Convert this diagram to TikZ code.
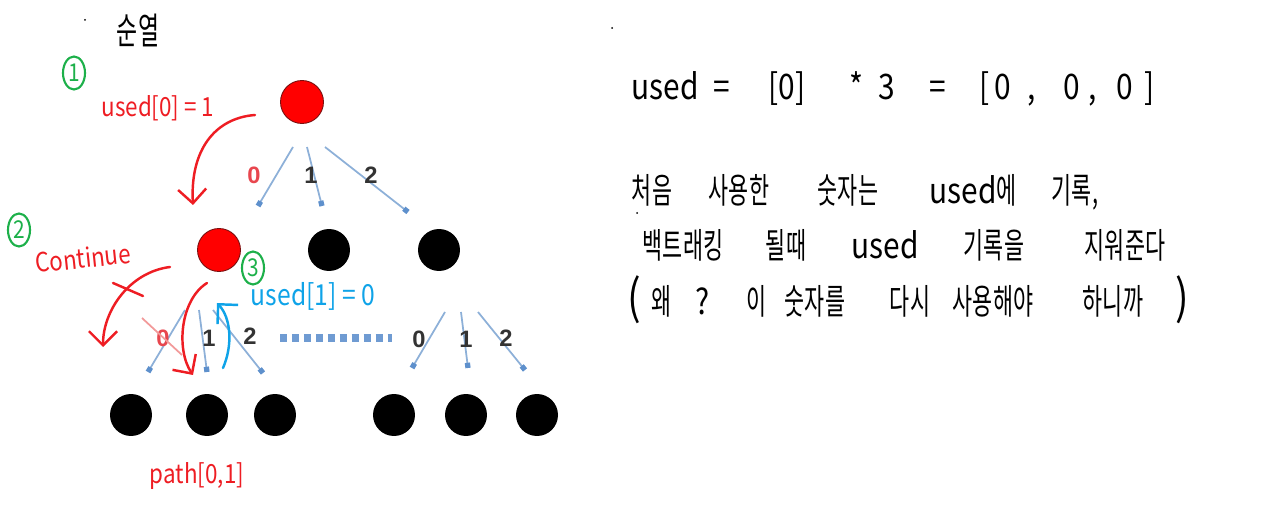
\documentclass[tikz,border=0pt]{standalone}
\usepackage{fontspec}
\setmainfont{Noto Sans}
\newfontfamily\labfont{Liberation Sans}
\newfontfamily\handlat[FakeStretch=0.85]{Noto Sans CJK KR}
\newfontfamily\handkr[FakeStretch=0.62]{Noto Sans CJK KR}
\newcommand\K[1]{{\handkr #1}}
\usetikzlibrary{arrows.meta,shapes.geometric}
\definecolor{nodered}{HTML}{FF0000}
\definecolor{noderim}{HTML}{7A1010}
\definecolor{penred}{HTML}{EE1D23}
\definecolor{penblue}{HTML}{0FA3E8}
\definecolor{pengreen}{HTML}{1DB04A}
\definecolor{edgeblue}{HTML}{8DB0D8}
\definecolor{tipblue}{HTML}{5E90CC}
\definecolor{dotblue}{HTML}{6F9BD2}
\definecolor{labred}{HTML}{E8464E}
\definecolor{crossred}{HTML}{F29A9A}
\begin{document}
\begin{tikzpicture}[x=0.02cm,y=-0.02cm,
  rednode/.style={circle,fill=nodered,draw=noderim,line width=0.5pt,minimum size=0.86cm,inner sep=0},
  blacknode/.style={circle,fill=black,minimum size=0.84cm,inner sep=0},
  treeedge/.style={draw=edgeblue,line width=1pt,-{Square[length=3pt,width=3pt,fill=tipblue,color=tipblue]}},
  treelab/.style={font=\labfont\bfseries\fontsize{13.5}{13.5}\selectfont,text=black!80,inner sep=0},
  pen/.style={line width=1.4pt,line cap=round,line join=round},
  penarrow/.style={pen,-{Straight Barb[length=8pt,width=16pt]}},
  hand/.style={font=\handlat\fontsize{20}{20}\selectfont,anchor=base,inner sep=0},
  note/.style={font=\handlat\fontsize{15}{15}\selectfont,inner sep=0},
  circnum/.style={ellipse,draw=pengreen,line width=1.2pt,text=pengreen,inner sep=0,
    minimum width=0.44cm,minimum height=0.66cm,font=\handlat\fontsize{14}{14}\selectfont},
  speck/.style={circle,fill=black,inner sep=0,minimum size=0.04cm}]
\useasboundingbox (0,0) rectangle (1262,530);

% specks
\node[speck] (s1) at (85,20) {};
\node[speck] (s2) at (612,28) {};
\node[speck] (s3) at (637,213) {};

% tree nodes
\node[rednode] (root) at (302,102) {};
\node[rednode] (a) at (219,250) {};
\node[blacknode] (b) at (329,250) {};
\node[blacknode] (c) at (439,250) {};
\node[blacknode] (a0) at (131,415) {};
\node[blacknode] (a1) at (207,415) {};
\node[blacknode] (a2) at (275,415) {};
\node[blacknode] (c0) at (394,415) {};
\node[blacknode] (c1) at (466,415) {};
\node[blacknode] (c2) at (537,415) {};

% edge end points
\coordinate (r0s) at (293,147); \coordinate (r0e) at (258,206);
\coordinate (r1s) at (307,147); \coordinate (r1e) at (322,206);
\coordinate (r2s) at (325,147); \coordinate (r2e) at (408,212);
\coordinate (a0s) at (185,310); \coordinate (a0e) at (148,372);
\coordinate (a1s) at (199,310); \coordinate (a1e) at (207,372);
\coordinate (a2s) at (213,310); \coordinate (a2e) at (263,373);
\coordinate (c0s) at (445,312); \coordinate (c0e) at (412,368);
\coordinate (c1s) at (461,312); \coordinate (c1e) at (468,368);
\coordinate (c2s) at (478,312); \coordinate (c2e) at (525,370);
\foreach \e in {r0,r1,r2,a0,a1,a2,c0,c1,c2} \draw[treeedge] (\e s) -- (\e e);

% edge labels
\node[treelab,text=labred] (lr0) at (254,175) {0};
\node[treelab] (lr1) at (311,175) {1};
\node[treelab] (lr2) at (371,175) {2};
\node[treelab,text=labred] (la0) at (163,338) {0};
\node[treelab] (la1) at (209,338) {1};
\node[treelab] (la2) at (250,336) {2};
\node[treelab] (lc0) at (419,339) {0};
\node[treelab] (lc1) at (466,339) {1};
\node[treelab] (lc2) at (506,338) {2};

% cross over the red 0
\coordinate (x0s) at (142,318); \coordinate (x0e) at (182,355);
\draw[crossred,line width=1pt] (x0s) -- (x0e);

% dotted line
\coordinate (d1) at (280,338); \coordinate (d2) at (392,338);
\draw[dotblue,line width=4pt,dash pattern=on 4pt off 2.8pt] (d1) -- (d2);

% handwritten annotations
\node[hand,font=\handkr\fontsize{21}{21}\selectfont] (title) at (138,45) {순열};
\node[circnum] (g1) at (74,73) {1};
\node[circnum] (g2) at (19,230) {2};
\node[circnum] (g3) at (253,268) {3};
\node[note,text=penred] (u0) at (158,108) {used[0] = 1};
\node[note,text=penred,rotate=6] (cont) at (83,258) {Continue};
\node[note,text=penblue,font=\handlat\fontsize{16.5}{16.5}\selectfont] (u1) at (313,296) {used[1] = 0};
\node[note,text=penred] (pth) at (197,476) {path[0,1]};

\coordinate (p1s) at (255,115); \coordinate (p1e) at (193,205);
\draw[penarrow,penred] (p1s) .. controls (215,118) and (190,150) .. (p1e);
\coordinate (p2s) at (170,267); \coordinate (p2e) at (103,347);
\draw[penarrow,penred] (p2s) .. controls (130,272) and (103,310) .. (p2e);
\coordinate (xs) at (113,283); \coordinate (xe) at (143,296);
\draw[pen,penred] (xs) -- (xe);
\coordinate (p3s) at (207,283); \coordinate (p3e) at (193,375);
\draw[penarrow,penred] (p3s) .. controls (180,300) and (176,350) .. (p3e);
\coordinate (p4s) at (223,368); \coordinate (p4e) at (217,303);
\draw[penarrow,penblue] (p4s) .. controls (233,345) and (231,318) .. (p4e);

% right text, line 1
\node[hand] (t1a) at (665,100) {used};
\node[hand] (t1b) at (722,100) {=};
\node[hand] (t1c) at (787,100) {[0]};
\node[hand] (t1d) at (856,100) {*};
\node[hand] (t1e) at (887,100) {3};
\node[hand] (t1f) at (938,100) {=};
\node[hand] (t1g) at (985,100) {[};
\node[hand] (t1h) at (1003,100) {0};
\node[hand] (t1i) at (1032,100) {,};
\node[hand] (t1j) at (1072,100) {0};
\node[hand] (t1k) at (1093,100) {,};
\node[hand] (t1l) at (1125,100) {0};
\node[hand] (t1m) at (1150,100) {]};
% line 2
\node[hand] (t2a) at (652,204) {\K{처음}};
\node[hand] (t2b) at (739,204) {\K{사용한}};
\node[hand] (t2c) at (848,204) {\K{숫자는}};
\node[hand] (t2d) at (973,204) {used\K{에}};
\node[hand] (t2e) at (1075,204) {\K{기록,}};
% line 3
\node[hand] (t3a) at (683,259) {\K{백트래킹}};
\node[hand] (t3b) at (786,259) {\K{될때}};
\node[hand] (t3c) at (885,259) {used};
\node[hand] (t3d) at (994,259) {\K{기록을}};
\node[hand] (t3e) at (1125,259) {\K{지워준다}};
% line 4
\node[hand,font=\handlat\fontsize{27}{27}\selectfont] (t4a) at (634,315) {(};
\node[hand] (t4b) at (662,315) {\K{왜}};
\node[hand] (t4c) at (703,315) {?};
\node[hand] (t4d) at (757,315) {\K{이}};
\node[hand] (t4e) at (815,315) {\K{숫자를}};
\node[hand] (t4f) at (910,315) {\K{다시}};
\node[hand] (t4g) at (993,315) {\K{사용해야}};
\node[hand] (t4h) at (1113,315) {\K{하니까}};
\node[hand,font=\handlat\fontsize{27}{27}\selectfont] (t4i) at (1182,315) {)};
\end{tikzpicture}
\end{document}
